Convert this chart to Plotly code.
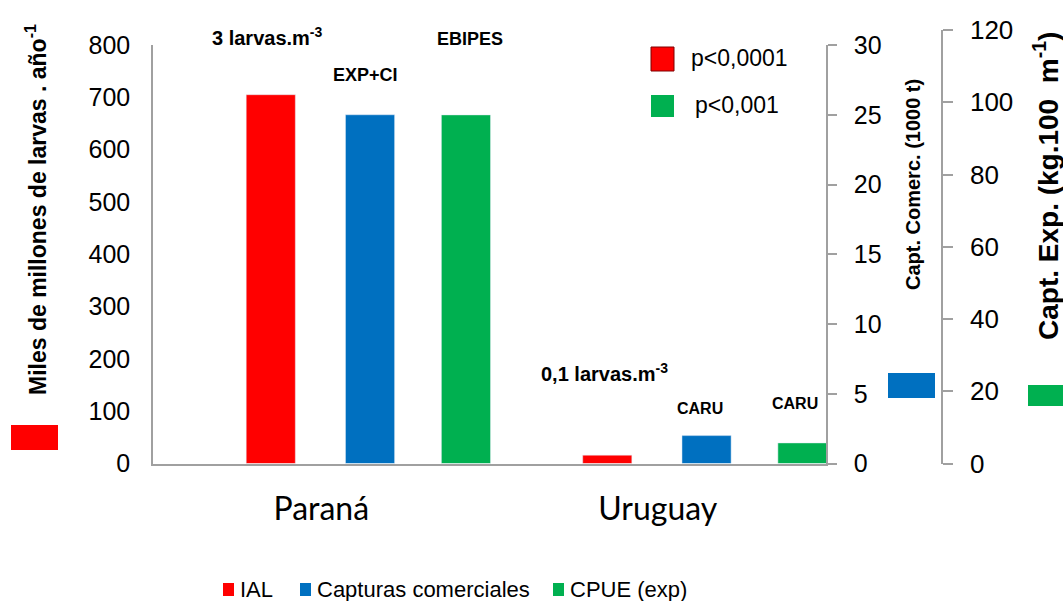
import plotly.graph_objects as go

# --- data -------------------------------------------------------------
categorias = ["Paraná", "Uruguay"]
ial = [705, 16]            # miles de millones de larvas . año-1
capturas = [25, 2]         # capturas comerciales (1000 t)
cpue = [96.5, 5.7]         # CPUE experimental (kg.100 m-1)

ticks_larvas = [0, 100, 200, 300, 400, 500, 600, 700, 800]
ticks_capt = [0, 5, 10, 15, 20, 25, 30]
ticks_cpue = [0, 20, 40, 60, 80, 100, 120]

series_nombres = ["IAL", "Capturas comerciales", "CPUE (exp)"]

ROJO = "#FF0000"
AZUL = "#0070C0"
VERDE = "#00B050"
GRIS = "#A0A0A0"

W, H = 1063, 601


def px_x(x):
    return x / W


def px_y(y):
    return (H - y) / H


ARIAL = "Liberation Sans, Arial, sans-serif"
BAR_W = 0.146

fig = go.Figure()
fig.add_trace(go.Bar(x=categorias, y=ial, name=series_nombres[0], marker_color=ROJO,
                     width=BAR_W, offset=-0.223, yaxis="y"))
fig.add_trace(go.Bar(x=categorias, y=capturas, name=series_nombres[1],
                     marker_color=AZUL, width=BAR_W, offset=0.072, yaxis="y2"))
fig.add_trace(go.Bar(x=categorias, y=cpue, name=series_nombres[2], marker_color=VERDE,
                     width=BAR_W, offset=0.357, yaxis="y3"))

y_bottom = px_y(463.5)
fig.update_layout(
    width=W, height=H,
    margin=dict(l=0, r=0, t=0, b=0, autoexpand=False),
    paper_bgcolor="white", plot_bgcolor="rgba(0,0,0,0)",
    barmode="overlay",
    showlegend=False,
    font=dict(family=ARIAL, color="black"),
    xaxis=dict(
        domain=[px_x(153), px_x(826)],
        type="category", range=[-0.5, 1.5],
        showline=True, linecolor=GRIS, linewidth=1.5,
        ticks="", showgrid=False, zeroline=False, automargin=False,
        tickfont=dict(family="Lato, Carlito, sans-serif", size=32, color="black"),
        ticklabelstandoff=16,
    ),
    yaxis=dict(
        domain=[y_bottom, px_y(45)],
        range=[0, 800], tickvals=ticks_larvas,
        showline=True, linecolor=GRIS, linewidth=1.5,
        ticks="", showgrid=False, zeroline=False, automargin=False,
        tickfont=dict(size=25), ticklabelstandoff=16,
    ),
    yaxis2=dict(
        overlaying="y", side="right", anchor="x",
        range=[0, 30], tickvals=ticks_capt,
        showline=True, linecolor=GRIS, linewidth=1.5,
        ticks="outside", ticklen=9, tickcolor=GRIS, tickwidth=1.5,
        showgrid=False, zeroline=False, automargin=False,
        tickfont=dict(size=25), ticklabelstandoff=12,
    ),
    yaxis3=dict(
        domain=[y_bottom, px_y(30)], anchor="free", position=px_x(942), side="right",
        range=[0, 120], tickvals=ticks_cpue,
        showline=True, linecolor=GRIS, linewidth=1.5,
        ticks="outside", ticklen=10, tickcolor=GRIS, tickwidth=1.5,
        showgrid=False, zeroline=False, automargin=False,
        tickfont=dict(size=26), ticklabelstandoff=12,
    ),
)


def texto(txt, x, y, size, xanchor="center", angle=0, bold=False):
    fig.add_annotation(text=f"<b>{txt}</b>" if bold else txt,
                       x=px_x(x), y=px_y(y), xref="paper", yref="paper",
                       xanchor=xanchor, yanchor="middle", textangle=angle,
                       showarrow=False, font=dict(size=size))


def caja(x0, x1, y0, y1, color, borde=None):
    fig.add_shape(type="rect", xref="paper", yref="paper",
                  x0=px_x(x0), x1=px_x(x1), y0=px_y(y1), y1=px_y(y0),
                  fillcolor=color,
                  line=dict(color=borde, width=1) if borde else dict(width=0))


# axis titles
texto("Miles de millones de larvas . año<sup>-1</sup>", 36, 210, 23, angle=-90, bold=True)
texto("Capt. Comerc. (1000 t)", 913, 185, 20, angle=-90, bold=True)
texto("Capt. Exp. (kg.100  m<sup>-1</sup>)", 1046, 186, 28, angle=-90, bold=True)

# colour keys beside the axis titles
caja(11, 58, 425, 450, ROJO)
caja(888, 935, 373, 398, AZUL)
caja(1028, 1075, 385, 406, VERDE)

# significance keys
caja(651, 674, 47, 71, ROJO, borde="#7F0000")
caja(651, 674, 95, 117, VERDE)
texto("p<0,0001", 689, 58, 23, xanchor="left")
texto("p<0,001", 693, 105, 23, xanchor="left")

# bar notes
texto("3 larvas.m<sup>-3</sup>", 210, 37, 20, xanchor="left", bold=True)
texto("EXP+CI", 365.5, 75, 18, bold=True)
texto("EBIPES", 470, 39, 18, bold=True)
texto("0,1 larvas.m<sup>-3</sup>", 539, 372, 20, xanchor="left", bold=True)
texto("CARU", 699.5, 408, 16, bold=True)
texto("CARU", 794.5, 403, 16, bold=True)

# series key under the chart
leyenda = [(223, ROJO), (300, AZUL), (553, VERDE)]
for nombre, (x0, color) in zip(series_nombres, leyenda):
    caja(x0, x0 + 11, 583, 596, color)
    texto(nombre, x0 + 15, 589, 22, xanchor="left")

fig.write_html("out.html")
